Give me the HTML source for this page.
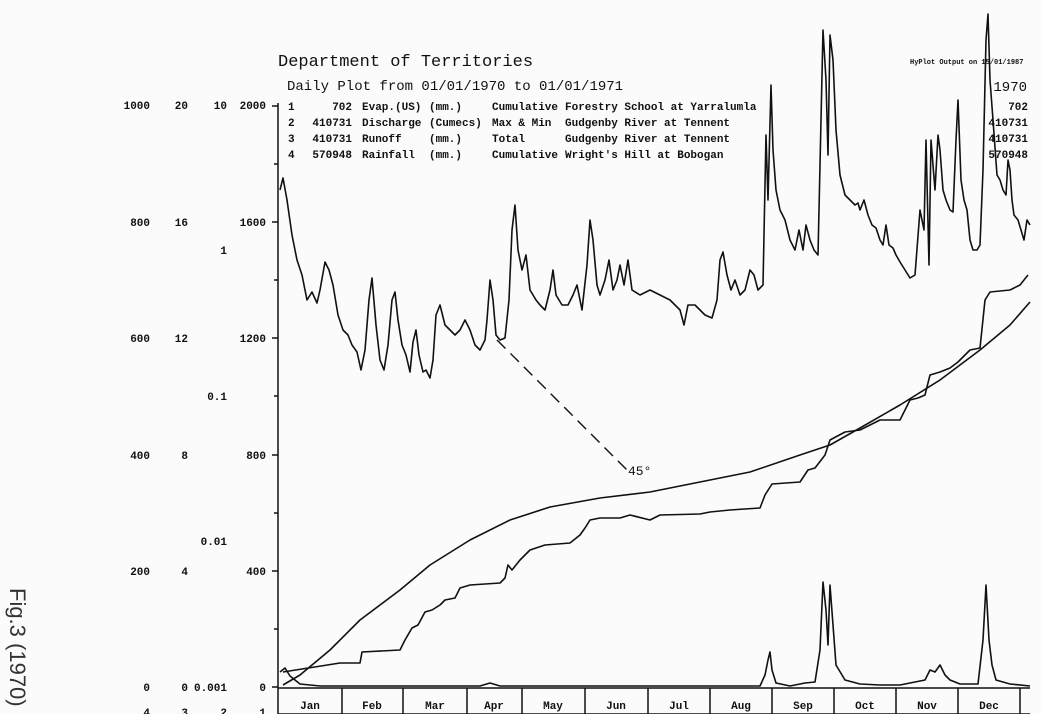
<!DOCTYPE html>
<html><head><meta charset="utf-8"><style>
body{margin:0;background:#fbfbfb;}
svg{display:block;font-family:"Liberation Mono",monospace;font-weight:bold;}
</style></head><body>
<svg width="1042" height="714" viewBox="0 0 1042 714" xmlns="http://www.w3.org/2000/svg">
<rect width="1042" height="714" fill="#fbfbfb"/>
<g fill="#111" font-size="11">
<text x="278" y="66" font-size="17" font-weight="normal">Department of Territories</text>
<text x="287" y="90" font-size="14" font-weight="normal">Daily Plot from 01/01/1970 to 01/01/1971</text>
<g>
<text x="288" y="110">1</text><text x="288" y="126">2</text><text x="288" y="142">3</text><text x="288" y="158">4</text>
<g text-anchor="end"><text x="352" y="110">702</text><text x="352" y="126">410731</text><text x="352" y="142">410731</text><text x="352" y="158">570948</text></g>
<text x="362" y="110">Evap.(US)</text><text x="362" y="126">Discharge</text><text x="362" y="142">Runoff</text><text x="362" y="158">Rainfall</text>
<text x="429" y="110">(mm.)</text><text x="429" y="126">(Cumecs)</text><text x="429" y="142">(mm.)</text><text x="429" y="158">(mm.)</text>
<text x="492" y="110">Cumulative</text><text x="492" y="126">Max &amp; Min</text><text x="492" y="142">Total</text><text x="492" y="158">Cumulative</text>
<text x="565" y="110">Forestry School at Yarralumla</text><text x="565" y="126">Gudgenby River at Tennent</text><text x="565" y="142">Gudgenby River at Tennent</text><text x="565" y="158">Wright's Hill at Bobogan</text>
</g>
<text x="910" y="64" font-size="7">HyPlot Output on 15/01/1987</text>
<text x="1027" y="91" font-size="14" text-anchor="end" font-weight="normal">1970</text>
<text x="1028" y="110" text-anchor="end">702</text>
<text x="1028" y="126" text-anchor="end">410731</text>
<text x="1028" y="142" text-anchor="end">410731</text>
<text x="1028" y="158" text-anchor="end">570948</text>
</g>
<g fill="#111" font-size="11" text-anchor="end">
<text x="150" y="109">1000</text><text x="188" y="109">20</text><text x="227" y="109">10</text><text x="266" y="109">2000</text>
<text x="150" y="226">800</text><text x="188" y="226">16</text><text x="266" y="226">1600</text>
<text x="227" y="254">1</text>
<text x="150" y="342">600</text><text x="188" y="342">12</text><text x="266" y="342">1200</text>
<text x="227" y="400">0.1</text>
<text x="150" y="459">400</text><text x="188" y="459">8</text><text x="266" y="459">800</text>
<text x="227" y="545">0.01</text>
<text x="150" y="575">200</text><text x="188" y="575">4</text><text x="266" y="575">400</text>
<text x="150" y="691">0</text><text x="188" y="691">0</text><text x="227" y="691">0.001</text><text x="266" y="691">0</text>
<text x="150" y="716">4</text><text x="188" y="716">3</text><text x="227" y="716">2</text><text x="266" y="716">1</text>
</g>
<text transform="translate(10,588) rotate(90)" font-family="Liberation Sans,sans-serif" font-weight="normal" font-size="22" fill="#333">Fig.3 (1970)</text>
<g stroke="#111" stroke-width="1.5" fill="none">
<line x1="278" y1="103" x2="278" y2="714"/>
<line x1="278" y1="688" x2="1030" y2="688"/>
<line x1="278" y1="714" x2="1030" y2="714"/>
<path d="M272 106H278M272 222H278M272 338H278M272 455H278M272 571H278M272 687H278M274 164H278M274 280H278M274 396H278M274 513H278M274 629H278"/>
<path d="M342 688V714M403 688V714M467 688V714M522 688V714M585 688V714M648 688V714M710 688V714M772 688V714M834 688V714M896 688V714M958 688V714M1020 688V714"/>
</g>
<g fill="#111" font-size="11" text-anchor="middle">
<text x="310" y="709">Jan</text><text x="372" y="709">Feb</text><text x="435" y="709">Mar</text><text x="494" y="709">Apr</text><text x="553" y="709">May</text><text x="616" y="709">Jun</text><text x="679" y="709">Jul</text><text x="741" y="709">Aug</text><text x="803" y="709">Sep</text><text x="865" y="709">Oct</text><text x="927" y="709">Nov</text><text x="989" y="709">Dec</text>
</g>
<g stroke="#111" stroke-width="1.6" fill="none" stroke-linejoin="round">
<polyline points="280,190 283,178 287,200 292,235 297,260 302,275 307,300 312,292 317,303 320,290 325,262 329,270 333,285 338,315 343,330 348,335 352,345 357,352 361,370 365,350 369,300 372,278 376,325 380,360 384,370 388,345 392,300 395,292 398,320 402,345 406,355 410,372 413,342 416,330 419,355 423,372 426,370 430,378 433,360 436,315 440,305 445,325 450,330 455,335 460,330 465,320 470,330 475,345 480,350 485,340 487,320 490,280 493,300 496,335 500,340 505,338 509,300 512,230 515,205 518,250 522,270 526,255 530,290 536,300 540,305 545,310 550,290 553,270 556,295 562,305 568,305 573,295 577,285 582,310 587,265 590,220 593,240 597,285 600,295 605,280 609,260 613,290 617,280 620,265 624,285 628,260 632,290 640,295 650,290 660,295 670,300 680,310 684,325 688,305 695,305 705,315 712,318 717,300 720,260 723,252 727,275 731,290 735,280 740,295 745,290 750,270 754,275 758,290 763,285 766,135 768,200 771,85 773,150 776,190 780,210 785,220 790,240 795,250 799,230 803,250 806,225 810,240 814,250 818,255 820,165 823,30 826,80 828,155 830,35 833,60 836,130 840,175 845,195 850,200 855,205 858,203 860,210 864,200 868,215 872,225 876,228 880,240 883,245 886,225 889,245 893,248 896,255 900,262 905,270 910,278 915,275 920,210 924,230 926,140 929,265 931,140 935,190 938,135 940,150 943,190 946,200 950,210 953,212 956,140 958,100 961,180 964,200 967,210 970,240 973,250 977,250 980,245 983,170 986,40 988,14 990,80 993,120 997,175 1000,180 1003,190 1006,195 1008,160 1010,170 1012,200 1014,215 1018,220 1021,230 1024,240 1027,220 1030,225"/>
<polyline points="283,685 300,675 330,650 360,620 400,590 430,565 470,540 510,520 550,507 600,498 650,492 700,482 750,472 800,455 830,445 860,428 900,405 940,380 980,350 1010,325 1030,302"/>
<polyline points="283,672 340,663 360,663 362,652 400,650 405,640 412,628 418,625 425,612 432,610 440,605 445,600 455,598 460,588 470,585 500,583 505,578 508,565 512,570 520,560 530,550 545,545 570,543 580,535 585,528 590,520 600,518 620,518 630,515 650,520 660,515 700,514 710,512 730,510 760,508 765,495 772,484 800,482 808,470 815,468 825,455 830,440 845,432 860,430 870,425 880,420 900,420 910,400 918,398 925,395 930,375 940,372 950,368 958,362 970,350 980,348 985,300 990,292 1010,290 1020,285 1028,275"/>
<polyline points="280,672 285,668 290,676 300,684 320,686 400,686 480,686 490,683 500,686 600,686 700,686 760,686 765,675 768,660 770,652 772,670 776,683 790,686 805,683 815,682 820,650 823,582 826,610 828,645 830,585 833,625 836,665 845,680 860,684 880,685 900,685 925,680 930,670 935,672 940,665 945,675 950,680 960,684 978,684 983,640 986,585 989,640 992,665 996,680 1010,684 1030,686"/>
</g>
<path d="M497 340 L627 470" stroke="#111" stroke-width="1.4" stroke-dasharray="12,7" fill="none"/>
<text x="628" y="475" font-size="13" font-weight="normal" fill="#111">45°</text>
</svg>
</body></html>
